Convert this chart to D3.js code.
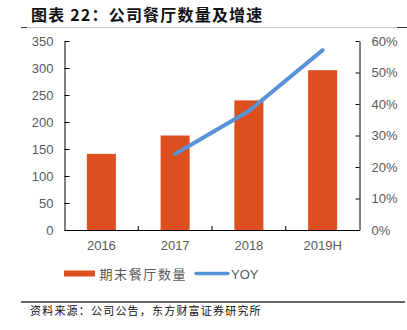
<!DOCTYPE html>
<html>
<head>
<meta charset="utf-8">
<script src="https://cdn.jsdelivr.net/npm/d3@7"></script>
<style>
  html, body { margin: 0; padding: 0; background: #fff; }
  svg { display: block; }
</style>
</head>
<body>
<svg id="chart" width="407" height="330"></svg>
<script>
// Restaurant count at period end, and year-over-year growth
const categories = ["2016", "2017", "2018", "2019H"];
const restaurants = [141, 175, 240, 296];
const yoyCategories = ["2017", "2018", "2019H"];
const yoy = [0.241, 0.378, 0.571];
const leftTicks = [0, 50, 100, 150, 200, 250, 300, 350];
const rightTicks = [0, 0.1, 0.2, 0.3, 0.4, 0.5, 0.6];

const titleText = "图表 22：公司餐厅数量及增速";
const sourceText = "资料来源：公司公告，东方财富证券研究所";
const barLabel = "期末餐厅数量";
const lineLabel = "YOY";

const barColor = "#DD4F1F";
const lineColor = "#5A92D8";
const textGrey = "#595959";

const svg = d3.select("#chart");
const font = "'Liberation Sans', Arial, sans-serif";
const cjk = "'Noto Sans CJK SC', sans-serif";

const plot = { left: 64.5, right: 359.5, top: 41, bottom: 230 };

const x = d3.scaleBand().domain(categories).range([plot.left, plot.right]).paddingInner(0.6).paddingOuter(0.3);
const xBand = d3.scaleBand().domain(categories).range([plot.left, plot.right]);
const yL = d3.scaleLinear().domain([0, 350]).range([plot.bottom, plot.top]);
const yR = d3.scaleLinear().domain([0, 0.6]).range([plot.bottom, plot.top]);

// Title and rules
svg.append("text")
  .attr("x", 31).attr("y", 21)
  .attr("font-family", cjk).attr("font-weight", "bold")
  .attr("font-size", 16).attr("letter-spacing", 1.2)
  .attr("fill", "#111").text(titleText);

svg.append("line").attr("x1", 27).attr("x2", 397).attr("y1", 27.5).attr("y2", 27.5)
  .attr("stroke", "#c8c8c8").attr("stroke-width", 1);
svg.append("line").attr("x1", 21).attr("x2", 27).attr("y1", 27.5).attr("y2", 27.5)
  .attr("stroke", "#333").attr("stroke-width", 1);
svg.append("line").attr("x1", 397).attr("x2", 407).attr("y1", 27.5).attr("y2", 27.5)
  .attr("stroke", "#333").attr("stroke-width", 1);

// Bars
svg.append("g").selectAll("rect")
  .data(categories.map((c, i) => ({ c, v: restaurants[i] })))
  .join("rect")
  .attr("x", d => xBand(d.c) + xBand.bandwidth() / 2 - 14.5)
  .attr("width", 29)
  .attr("y", d => yL(d.v))
  .attr("height", d => yL(0) - yL(d.v))
  .attr("fill", barColor);

// YOY line
const line = d3.line()
  .x(d => xBand(d.c) + xBand.bandwidth() / 2)
  .y(d => yR(d.v));
svg.append("path")
  .datum(yoyCategories.map((c, i) => ({ c, v: yoy[i] })))
  .attr("d", line)
  .attr("fill", "none")
  .attr("stroke", lineColor)
  .attr("stroke-width", 4)
  .attr("stroke-linecap", "round")
  .attr("stroke-linejoin", "round");

// Axes
function styleAxis(g) {
  g.selectAll(".domain").attr("stroke", "#000").attr("stroke-width", 1);
  g.selectAll(".tick line").attr("stroke", "#000").attr("stroke-width", 1);
  g.selectAll("text").attr("font-family", font).attr("font-size", 13).attr("fill", textGrey);
}

const leftAxis = svg.append("g")
  .attr("transform", `translate(${plot.left},0)`)
  .call(d3.axisLeft(yL).tickValues(leftTicks).tickSizeInner(-5).tickSizeOuter(0).tickPadding(11))
  .call(styleAxis);

const rightAxis = svg.append("g")
  .attr("transform", `translate(${plot.right},0)`)
  .call(d3.axisRight(yR).tickValues(rightTicks).tickFormat(d3.format(".0%")).tickSizeInner(-4).tickSizeOuter(0).tickPadding(12))
  .call(styleAxis);

const bottomAxis = svg.append("g")
  .attr("transform", `translate(0,${plot.bottom})`)
  .call(d3.axisBottom(xBand).tickSize(0).tickPadding(11))
  .call(styleAxis);
bottomAxis.selectAll(".tick text").attr("dy", "0.71em");

// Inward tick marks at category boundaries
svg.append("g").selectAll("line")
  .data(categories.slice(1))
  .join("line")
  .attr("x1", d => xBand(d)).attr("x2", d => xBand(d))
  .attr("y1", plot.bottom).attr("y2", plot.bottom - 4)
  .attr("stroke", "#000");

// Legend
const lg = svg.append("g");
lg.append("rect").attr("x", 64).attr("y", 270.5).attr("width", 31).attr("height", 6).attr("fill", barColor);
lg.append("text").attr("x", 99.5).attr("y", 278.5)
  .attr("font-family", cjk).attr("font-size", 13).attr("letter-spacing", 1.6)
  .attr("fill", textGrey).text(barLabel);
lg.append("line").attr("x1", 196).attr("x2", 228).attr("y1", 273.5).attr("y2", 273.5)
  .attr("stroke", lineColor).attr("stroke-width", 3.5).attr("stroke-linecap", "round");
lg.append("text").attr("x", 231).attr("y", 278.5)
  .attr("font-family", font).attr("font-size", 13)
  .attr("fill", textGrey).text(lineLabel);

// Source note
svg.append("line").attr("x1", 21).attr("x2", 405).attr("y1", 302).attr("y2", 302)
  .attr("stroke", "#333").attr("stroke-width", 1.5);
svg.append("text").attr("x", 30).attr("y", 315)
  .attr("font-family", cjk).attr("font-size", 11).attr("letter-spacing", 1.2)
  .attr("fill", "#111").text(sourceText);
</script>
</body>
</html>
